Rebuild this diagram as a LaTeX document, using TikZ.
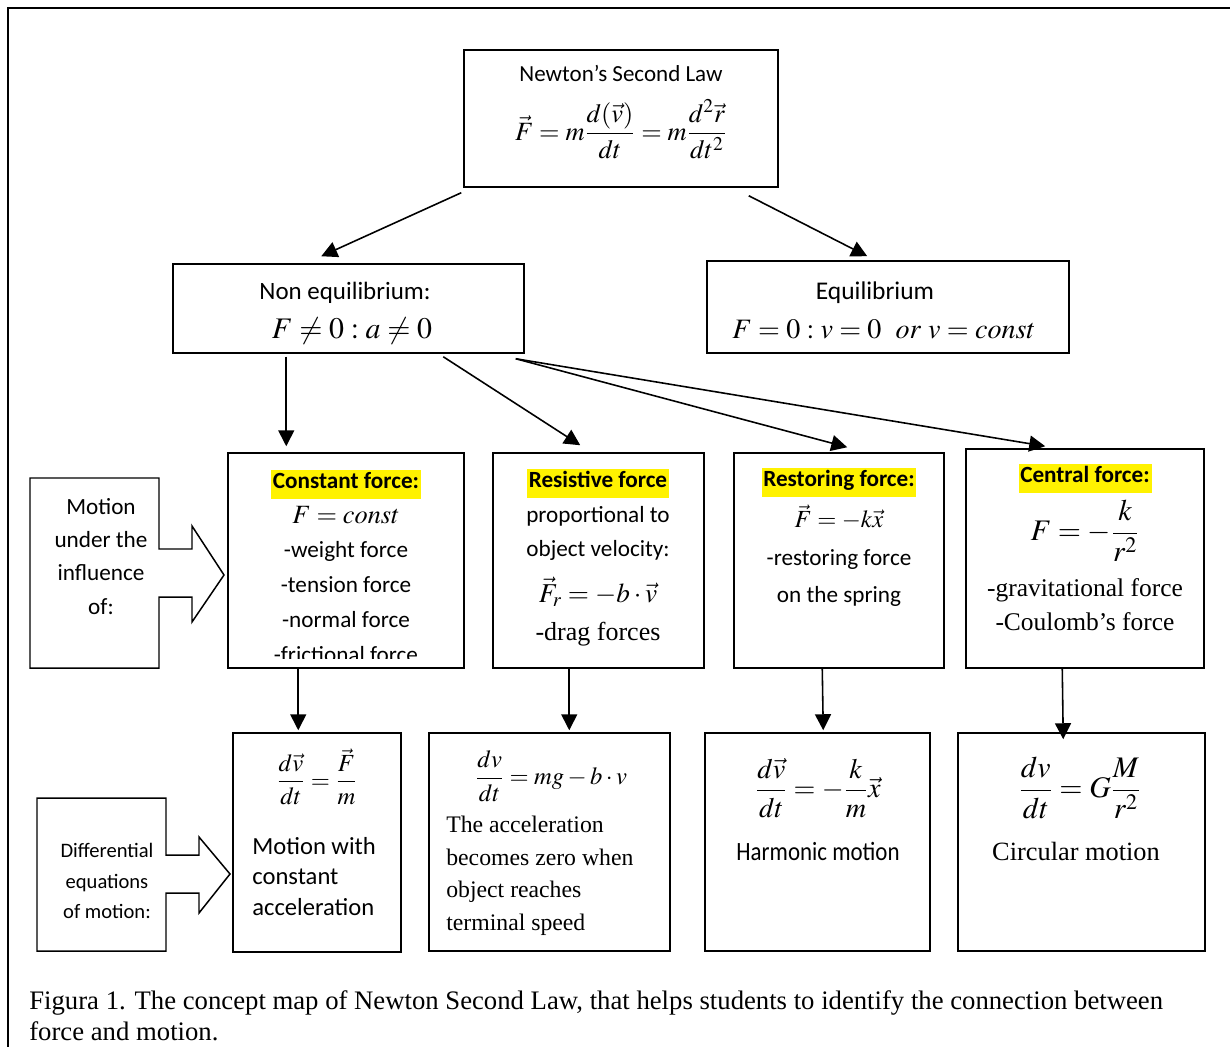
\documentclass[tikz,border=0pt]{standalone}
\usepackage{amsmath}
\usepackage{mathptmx}
\usepackage{fontspec}
\setmainfont{Liberation Serif}
\newfontfamily\carlito{Carlito}
\usepackage{tikz}
\usetikzlibrary{positioning, arrows.meta, fit, calc}

\newcommand{\fsz}[2]{\fontsize{#1}{#2}\selectfont}
\newcommand{\eqn}[2]{{\fontsize{#1}{#1}\selectfont$#2$}}
\newcommand{\hl}[1]{{\setlength{\fboxsep}{1pt}\colorbox{yellow}{\rule[-0.38em]{0pt}{1.08em}\bfseries #1}}}

\begin{document}
\begin{tikzpicture}[
    x=0.02cm, y=-0.02cm,
    box/.style={
        rectangle,
        draw,
        line width=0.85pt,
        inner sep=0pt
    },
    txt/.style={
        inner sep=0pt,
        align=center
    },
    callout/.style={
        draw,
        line width=0.85pt,
        line join=miter
    },
    arrow/.style={
        -{Triangle[length=0.32cm, width=0.32cm]},
        line width=0.9pt
    }
]
\useasboundingbox (0,0) rectangle (1230,1047);

% frame
\draw[line width=1.4pt] (8,1060) -- (8,8) -- (1240,8);

% ------------------------------------------------------------------
% NEWTON'S LAW
% ------------------------------------------------------------------

\node[box, fit={(464,50) (778,187)}] (newton) {};
\node[txt, anchor=base, font=\carlito\fsz{13.1}{15}] (newtonT) at (621,82)
{Newton’s Second Law};
\node[txt, font=\fsz{15}{18}] (newtonEq) at (621,129)
{$\vec{F} = m\dfrac{d(\vec{v})}{dt} = m\dfrac{d^2\vec{r}}{dt^2}$};

% ------------------------------------------------------------------
% EQUILIBRIUM / NON EQUILIBRIUM
% ------------------------------------------------------------------

\node[box, fit={(173,264) (524,353)}] (noneq) {};
\node[txt, anchor=base, font=\carlito\fsz{14.2}{17}] (noneqT) at (345,300)
{Non equilibrium:};
\node[txt, anchor=base, font=\fsz{17}{20}] (noneqEq) at (352,338)
{$F \neq 0 : a \neq 0$};

\node[box, fit={(707,261) (1069,353)}] (equil) {};
\node[txt, anchor=base, font=\carlito\fsz{14.5}{17}] (equilT) at (875,300)
{Equilibrium};
\node[txt, anchor=base, font=\fsz{16}{19}] (equilEq) at (884,338)
{$F = 0 : v = 0\ \ or\ v = const$};

% ------------------------------------------------------------------
% KINDS OF FORCE
% ------------------------------------------------------------------

\draw[callout] (30,478) -- (159,478) -- (159,549) -- (192,549) -- (192,526)
  -- (224,575) -- (192,622) -- (192,597) -- (159,597) -- (159,668)
  -- (30,668) -- cycle;
\node[txt, anchor=north, font=\carlito\fsz{13.2}{18.9}] (motionT) at (101,498)
{Motion\\ under the\\ influence\\ of:};

\node[box, fit={(228,453) (464,668)}] (const) {};
\begin{scope}
\clip ($(const.south west)+(0,-10)$) rectangle (const.north east);
\node[txt, anchor=north, font=\carlito\fsz{13.2}{19.8}] (constT) at (346,470)
{\hl{Constant force:}\\ \eqn{15}{F = const}\\ -weight force\\ -tension force\\
 -normal force\\ -frictional force};
\end{scope}

\node[box, fit={(493,453) (704,668)}] (resist) {};
\node[txt, anchor=north, font=\carlito\fsz{13.2}{19.8}] (resistT) at (598,469)
{\hl{Resistive force}\\ proportional to\\ object velocity:\\[6pt]
 \eqn{15.5}{\vec{F}_r = -b\cdot\vec{v}}\\[2pt] {\rmfamily\fsz{14.8}{14.8}-drag forces}};

\node[box, fit={(734,453) (944,668)}] (restor) {};
\node[txt, anchor=north, font=\carlito\fsz{13.2}{19.8}] (restorT) at (839,468)
{\hl{Restoring force:}\\[3.6pt] \eqn{14}{\vec{F} = -k\vec{x}}\\[2pt]
 -restoring force\\[1pt] on the spring};

\node[box, fit={(966,449) (1204,668)}] (central) {};
\node[txt, anchor=north, font=\carlito\fsz{13.2}{19.8}] (centralT) at (1085,464)
{\hl{Central force:}\\[3pt] \eqn{17}{F = -\dfrac{k}{r^2}}\\[8.6pt]
 {\rmfamily\fsz{14.5}{19.8}-gravitational force}\\ {\rmfamily\fsz{14.5}{19.8}-Coulomb’s force}};

% ------------------------------------------------------------------
% EQUATIONS OF MOTION
% ------------------------------------------------------------------

\draw[callout] (37,798) -- (166,798) -- (166,855) -- (199,855) -- (199,837)
  -- (230,874) -- (199,913) -- (199,893) -- (166,893) -- (166,951)
  -- (37,951) -- cycle;
\node[txt, anchor=north, font=\carlito\fsz{11.7}{17.3}] (diffT) at (107,843)
{Differential\\ equations\\ of motion:};

\node[box, fit={(233,733) (401,952)}] (accel) {};
\node[txt, font=\fsz{14}{16}] (accelEq) at (317,777)
{$\dfrac{d\vec{v}}{dt} = \dfrac{\vec{F}}{m}$};
\node[txt, anchor=north west, align=left, font=\carlito\fsz{14}{17.3}] (accelT) at (252,837)
{Motion with\\ constant\\ acceleration};

\node[box, fit={(429,733) (670,951)}] (terminal) {};
\node[txt, anchor=west, font=\fsz{14}{16}] (terminalEq) at (475,776)
{$\dfrac{dv}{dt} = mg - b\cdot v$};
\node[txt, anchor=north west, align=left, font=\fsz{13.5}{18.5}] (terminalT) at (446,816)
{The acceleration\\ becomes zero when\\ object reaches\\ terminal speed};

\node[box, fit={(705,733) (930,951)}] (harmonic) {};
\node[txt, font=\fsz{16}{18}] (harmonicEq) at (818,788)
{$\dfrac{d\vec{v}}{dt} = -\dfrac{k}{m}\vec{x}$};
\node[txt, anchor=base, font=\carlito\fsz{15}{18}] (harmonicT) at (818,860)
{\scalebox{0.87}[1]{Harmonic motion}};

\node[box, fit={(958,733) (1205,951)}] (circular) {};
\node[txt, font=\fsz{17}{20}] (circularEq) at (1080,788)
{$\dfrac{dv}{dt} = G\dfrac{M}{r^2}$};
\node[txt, anchor=base, font=\fsz{15}{18}] (circularT) at (1076,860)
{Circular motion};

% caption
\node[txt, anchor=north west, align=left, font=\fsz{15.2}{18.1}] (caption) at (29,990)
{Figura 1. The concept map of Newton Second Law, that helps students to identify the connection between\\
force and motion.};

% ------------------------------------------------------------------
% CONNECTIONS
% ------------------------------------------------------------------

\draw[arrow] ($(newton.south west)+(-2,5)$) -- ($(noneq.north west)+(149,-7)$);
\draw[arrow] ($(newton.south east)+(-30,8)$) -- ($(equil.north west)+(161,-4)$);

\draw[arrow] ($(noneq.south west)+(114,3)$) -- ($(const.north west)+(59,-6)$);
\draw[arrow] ($(noneq.south west)+(271,3)$) -- ($(resist.north west)+(88,-7)$);
\draw[arrow] ($(noneq.south east)+(-9,5)$) -- ($(restor.north west)+(114,-5)$);
\draw[arrow] ($(noneq.south east)+(-9,5)$) -- ($(central.north west)+(80,-2)$);

\draw[arrow] ($(const.south west)+(71,0)$) -- ($(accel.north west)+(66,-2)$);
\draw[arrow] ($(resist.south west)+(77,0)$) -- ($(terminal.north west)+(141,-2)$);
\draw[arrow] ($(restor.south west)+(89,0)$) -- ($(harmonic.north west)+(119,-2)$);
\draw[arrow] ($(central.south west)+(97,0)$) -- ($(circular.north west)+(106,7)$);

\end{tikzpicture}
\end{document}
